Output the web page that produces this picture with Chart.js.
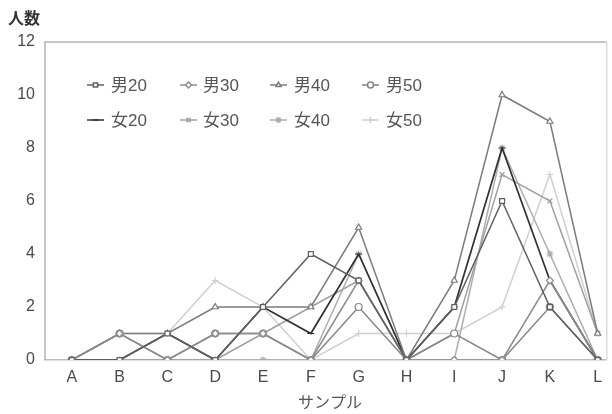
<!DOCTYPE html>
<html lang="ja">
<head>
  <meta charset="UTF-8">
  <title>サンプル別人数</title>
  <script src="https://cdn.jsdelivr.net/npm/chart.js"></script>
  <style>
    body { margin: 0; background: #fff; }
    #wrap { width: 612px; height: 414px; position: relative; }
  </style>
</head>
<body>
  <div id="wrap"><canvas id="chart"></canvas></div>
  <script>
    // カテゴリとデータ
    const samples = ["A", "B", "C", "D", "E", "F", "G", "H", "I", "J", "K", "L"];
    const yTicks = [0, 2, 4, 6, 8, 10, 12];

    const male20 = [0, 0, 1, 0, 2, 4, 3, 0, 2, 6, 2, 0];
    const male30 = [0, 1, 0, 1, 1, 0, 3, 0, 0, 0, 3, 0];
    const male40 = [0, 1, 1, 2, 2, 2, 5, 0, 3, 10, 9, 1];
    const male50 = [0, 1, 0, 1, 1, 0, 2, 0, 1, 0, 2, 0];
    const female20 = [0, 0, 1, 0, 2, 1, 4, 0, 2, 8, 3, 0];
    const female30 = [0, 0, 0, 0, 1, 2, 3, 0, 1, 7, 6, 1];
    const female40 = [0, 0, 0, 0, 0, 0, 4, 0, 0, 8, 4, 0];
    const female50 = [0, 1, 1, 3, 2, 0, 1, 1, 1, 2, 7, 1];

    const seriesNames = ["男20", "男30", "男40", "男50", "女20", "女30", "女40", "女50"];
    const seriesData = [male20, male30, male40, male50, female20, female30, female40, female50];
    const seriesColors = ["#606060", "#8c8c8c", "#7c7c7c", "#858585", "#303030", "#a0a0a0", "#adadad", "#d0d0d0"];
    const seriesMarkers = ["rect", "rectRot", "triangle", "circle", "line", "crossRot", "star", "cross"];

    const datasets = seriesData.map((vals, i) => ({
      label: seriesNames[i],
      data: vals.map((v, j) => ({ x: j, y: v })),
      borderColor: seriesColors[i],
      backgroundColor: "#ffffff",
      pointBorderColor: seriesColors[i],
      pointBackgroundColor: "#ffffff",
      pointStyle: seriesMarkers[i],
      pointRadius: 3.5,
      pointBorderWidth: 1.2,
      borderWidth: i === 4 ? 1.7 : 1.5,
      tension: 0
    }));

    // 凡例・軸タイトル・枠を描くプラグイン
    const decor = {
      id: "decor",
      afterDraw(chart) {
        const c = chart.ctx;
        const a = chart.chartArea;
        c.save();
        // 枠
        c.strokeStyle = "#b4b4b4";
        c.lineWidth = 1.5;
        c.beginPath();
        c.moveTo(a.left, a.bottom);
        c.lineTo(a.left, a.top);
        c.lineTo(a.right, a.top);
        c.stroke();
        c.strokeStyle = "#dddddd";
        c.beginPath();
        c.moveTo(a.right, a.top);
        c.lineTo(a.right, a.bottom);
        c.stroke();
        // 軸タイトル
        c.fillStyle = "#333";
        c.font = "bold 16px 'Noto Sans CJK JP'";
        c.textBaseline = "middle";
        c.textAlign = "left";
        c.fillText("人数", 8, 18);
        c.fillStyle = "#555";
        c.font = "16px 'Noto Sans CJK JP'";
        c.textAlign = "center";
        c.fillText("サンプル", 330, 402);
        // 凡例
        const lineX = [87, 180, 270, 362];
        const textX = [111, 203, 294, 386];
        const rowY = [85, 120];
        c.font = "17px 'Liberation Sans', 'Noto Sans CJK JP'";
        c.textAlign = "left";
        chart.data.datasets.forEach((ds, i) => {
          const x = lineX[i % 4];
          const y = rowY[Math.floor(i / 4)];
          c.strokeStyle = ds.borderColor;
          c.lineWidth = 1.5;
          c.beginPath();
          c.moveTo(x, y);
          c.lineTo(x + 17, y);
          c.stroke();
          c.fillStyle = "#ffffff";
          Chart.helpers.drawPoint(c, {
            pointStyle: ds.pointStyle, radius: 3, borderWidth: 1.1, rotation: 0
          }, x + 8.5, y);
          c.fillStyle = "#555";
          c.fillText(ds.label, textX[i % 4], y + 1);
        });
        c.restore();
      }
    };

    Chart.defaults.font.family = "'Liberation Sans', 'Noto Sans CJK JP', sans-serif";
    Chart.defaults.color = "#4a4a4a";

    new Chart(document.getElementById("chart"), {
      type: "line",
      data: { datasets },
      options: {
        responsive: true,
        maintainAspectRatio: false,
        animation: false,
        layout: { padding: { left: 0, top: 42, right: 5, bottom: 0 } },
        plugins: { legend: { display: false }, tooltip: { enabled: false } },
        scales: {
          x: {
            type: "linear",
            min: -0.56,
            max: 11.19,
            afterFit(s) { s.height = 54; },
            afterBuildTicks(s) { s.ticks = samples.map((_, i) => ({ value: i })); },
            ticks: {
              callback: (v) => samples[v],
              font: { size: 16 },
              padding: 8,
              maxRotation: 0,
              autoSkip: false
            },
            grid: { display: false, drawTicks: false },
            border: { display: true, color: "#bcbcbc", width: 1.5 }
          },
          y: {
            min: 0,
            max: 12,
            afterFit(s) { s.width = 45; },
            afterBuildTicks(s) { s.ticks = yTicks.map(v => ({ value: v })); },
            ticks: { font: { size: 16 }, padding: 10 },
            grid: { display: false, drawTicks: false },
            border: { display: false }
          }
        }
      },
      plugins: [decor]
    });
  </script>
</body>
</html>
